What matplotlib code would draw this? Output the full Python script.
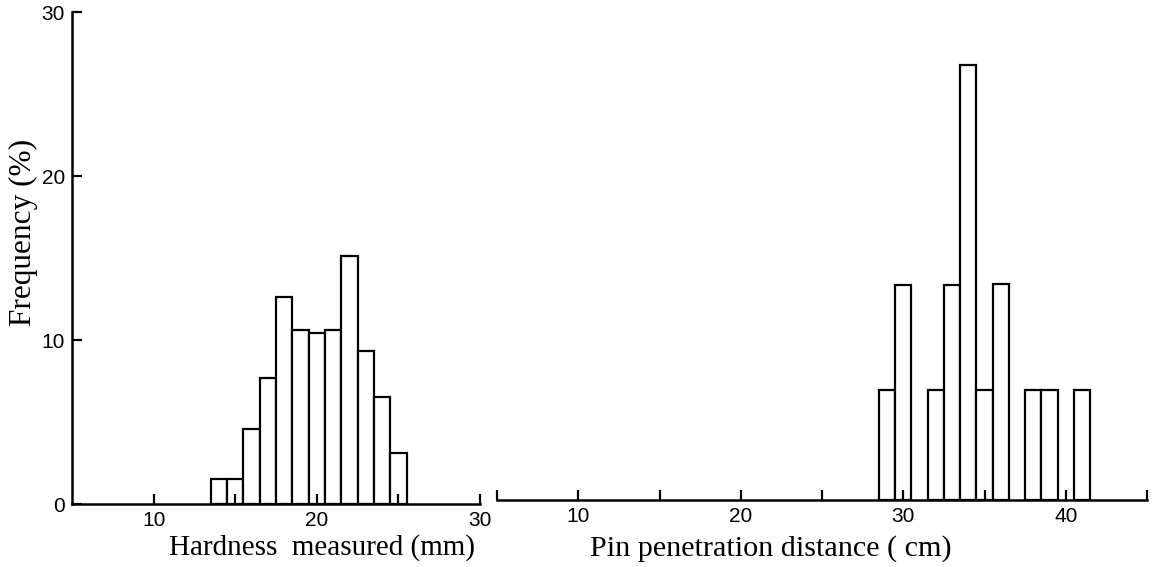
import matplotlib

matplotlib.use("Agg")
import matplotlib.pyplot as plt  # noqa: E402

# hardness histogram (bin centres, mm) and frequency (%)
hard_bins = [14, 15, 16, 17, 18, 19, 20, 21, 22, 23, 24, 25]
hard_freq = [1.5, 1.5, 4.6, 7.7, 12.6, 10.6, 10.4, 10.6, 15.1, 9.3, 6.5, 3.1]

# pin penetration histogram (bin centres, cm) and frequency (%)
pin_bins = [29, 30, 32, 33, 34, 35, 36, 38, 39, 41]
pin_freq = [6.7, 13.1, 6.7, 13.1, 26.5, 6.7, 13.2, 6.7, 6.7, 6.7]

W, H = 1153, 567
SERIF = "Liberation Serif"
TICK_FONT = "Liberation Sans"


def style_ticks(ax, majors, minors):
    ax.set_xticks(majors)
    ax.set_xticks(minors, minor=True)
    ax.set_xticklabels([str(v) for v in majors], fontfamily=TICK_FONT, fontsize=15)
    ax.tick_params(axis="x", which="both", direction="in", length=7, width=1.6, pad=5)


fig = plt.figure(figsize=(W / 100, H / 100), dpi=100)

# left panel: hardness
ax1 = fig.add_axes([72 / W, 1 - 504 / H, 408 / W, 492 / H])
ax1.bar(hard_bins, hard_freq, width=1.0, color="white", edgecolor="black", linewidth=1.6)
ax1.set_xlim(5, 30)
ax1.set_ylim(0, 30)
for s in ("top", "right"):
    ax1.spines[s].set_visible(False)
for s in ("left", "bottom"):
    ax1.spines[s].set_linewidth(1.8)
style_ticks(ax1, [10, 20, 30], [15, 25])
ax1.set_yticks([0, 10, 20, 30])
ax1.set_yticklabels(["0", "10", "20", "30"], fontfamily=TICK_FONT, fontsize=15)
ax1.tick_params(axis="y", direction="in", length=7, width=1.6, pad=5)
ax1.set_xlabel("Hardness  measured (mm)", family=SERIF, size=21, va="center")
ax1.xaxis.set_label_coords(0.613, -0.089)
ax1.set_ylabel("Frequency (%)", family=SERIF, size=22.5, va="center")
ax1.yaxis.set_label_coords(-0.12, 0.551)

# right panel: pin penetration
ax2 = fig.add_axes([497 / W, 1 - 500 / H, 650 / W, 492 / H])
ax2.bar(pin_bins, pin_freq, width=1.0, color="white", edgecolor="black", linewidth=1.6)
ax2.set_xlim(5, 45)
ax2.set_ylim(0, 30)
for s in ("top", "right", "left"):
    ax2.spines[s].set_visible(False)
ax2.spines["bottom"].set_linewidth(1.8)
style_ticks(ax2, [10, 20, 30, 40], [5, 15, 25, 35, 45])
ax2.set_yticks([])
ax2.set_xlabel("Pin penetration distance ( cm)", family=SERIF, size=21.7, va="center")
ax2.xaxis.set_label_coords(0.4215, -0.098)

fig.savefig("out.png", dpi=100, facecolor="white")
